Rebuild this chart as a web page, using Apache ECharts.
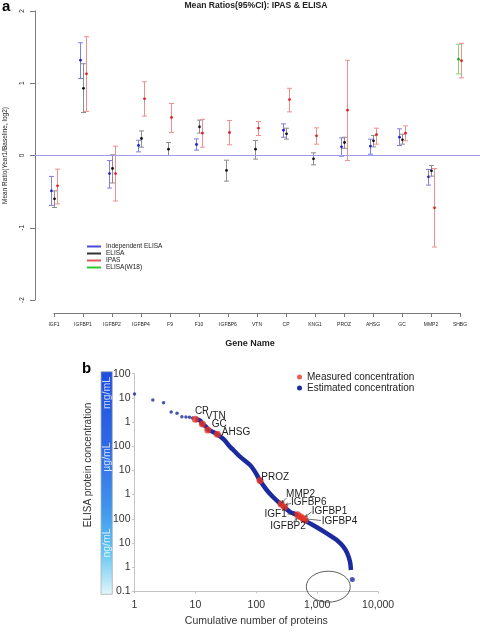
<!DOCTYPE html>
<html><head><meta charset="utf-8">
<script src="https://cdn.jsdelivr.net/npm/echarts@6/dist/echarts.min.js"></script>
<style>html,body{margin:0;padding:0;background:#fff}#c{width:480px;height:639px}</style>
</head><body><div id="c"></div>
<script>
// ---------- Panel a data (log2 mean ratio with 95% CI; null = not measured) ----------
const geneNames = ['IGF1','IGFBP1','IGFBP2','IGFBP4','F9','F10','IGFBP6','VTN','CP','KNG1','PROZ','AHSG','GC','MMP2','SHBG'];
const yTicksA = [-2, -1, 0, 1, 2];

const indElisaMean = [-0.49, 1.32, -0.25, 0.14, null, 0.152, null, null, 0.35, null, 0.12, 0.129, 0.253, -0.295, null];
const indElisaLow  = [-0.69, 1.065, -0.45, 0.05, null, 0.074, null, null, 0.253, null, -0.01, 0.018, 0.138, -0.41, null];
const indElisaHigh = [-0.29, 1.56, -0.07, 0.21, null, 0.23, null, null, 0.438, null, 0.244, 0.226, 0.369, -0.194, null];

const elisaMean = [-0.60, 0.93, -0.18, 0.235, 0.088, 0.397, -0.207, 0.088, 0.30, -0.046, 0.18, 0.203, 0.217, -0.212, null];
const elisaLow  = [-0.72, 0.595, -0.38, 0.115, 0.0, 0.31, -0.355, -0.05, 0.226, -0.129, 0.10, 0.12, 0.157, -0.286, null];
const elisaHigh = [-0.49, 1.27, 0.01, 0.34, 0.18, 0.49, -0.065, 0.207, 0.378, 0.037, 0.253, 0.276, 0.295, -0.138, null];

const ipasMean = [-0.42, 1.13, -0.25, 0.785, 0.526, 0.31, 0.318, 0.378, 0.774, 0.272, 0.627, 0.29, 0.309, -0.724, 1.313];
const ipasLow  = [-0.67, 0.61, -0.63, 0.545, 0.32, 0.115, 0.148, 0.276, 0.604, 0.157, -0.07, 0.157, 0.203, -1.267, 1.074];
const ipasHigh = [-0.19, 1.645, 0.13, 1.02, 0.72, 0.5, 0.485, 0.47, 0.93, 0.383, 1.318, 0.378, 0.41, -0.18, 1.553];

const w18Mean = [null, null, null, null, null, null, null, null, null, null, null, null, null, null, 1.332];
const w18Low  = [null, null, null, null, null, null, null, null, null, null, null, null, null, null, 1.129];
const w18High = [null, null, null, null, null, null, null, null, null, null, null, null, null, null, 1.54];

// ---------- Panel b data (rank vs concentration in ng/mL) ----------
const estRankDots = [1, 2, 3, 4, 5, 6, 7, 8, 9];
const estConcDots = [1.45e7, 8.2e6, 6.3e6, 2.6e6, 2.3e6, 1.66e6, 1.6e6, 1.58e6, 1.47e6];
const estRankCurve = [10, 12, 13, 15, 16, 20, 23, 29, 37, 42, 54, 79, 95, 115, 148, 190, 261, 357, 460, 673, 982, 1432, 2090, 2684, 3120, 3456, 3590];
const estConcCurve = [1.3e6, 1.14e6, 8.3e5, 6.4e5, 5.0e5, 3.8e5, 3.1e5, 1.95e5, 9.5e4, 7.0e4, 3.7e4, 1.67e4, 8.9e3, 3.8e3, 1.55e3, 776, 372, 195, 145, 76, 44.7, 25, 13.2, 7.0, 3.7, 1.66, 0.76];
const estRankTail = [3770];
const estConcTail = [0.31];
const measuredNames = ['CP','VTN','GC','AHSG','PROZ','MMP2','IGFBP6','IGF1','IGFBP2','IGFBP1','IGFBP4'];
const measuredRank  = [10, 13, 16, 23, 115, 255, 290, 475, 532, 585, 631];
const measuredConc  = [1.3e6, 8.3e5, 4.7e5, 3.1e5, 3.8e3, 408, 307, 145, 121, 103, 89];
const xTickLabelsB = ['1', '10', '100', '1,000', '10,000'];
const yTickLabelsB = ['0.1', '1', '10', '100', '1', '10', '100', '1', '10', '100'];
const unitLabels = ['mg/mL', 'µg/mL', 'ng/mL'];

// ---------- styles ----------
const NARROW = "'Liberation Sans Narrow','Liberation Sans',Arial,sans-serif";
const SANS = "'Liberation Sans',Arial,sans-serif";

const groups = [
  {name: 'Independent ELISA', mean: indElisaMean, low: indElisaLow, high: indElisaHigh, bar: '#7f7fe8', dot: '#1c1cd0', legend: '#4a4ad8'},
  {name: 'ELISA', mean: elisaMean, low: elisaLow, high: elisaHigh, bar: '#8c8c8c', dot: '#111111', legend: '#333333'},
  {name: 'ELISA(W18)', mean: w18Mean, low: w18Low, high: w18High, bar: '#80d680', dot: '#1faa1f', legend: '#33c433'},
  {name: 'IPAS', mean: ipasMean, low: ipasLow, high: ipasHigh, bar: '#f08e8e', dot: '#e02020', legend: '#e05858'}
];

// offsets (px) within a category, depending on how many groups are present
const offsets = groups.map(() => geneNames.map(() => 0));
geneNames.forEach((_, i) => {
  const present = groups.map((g, k) => g.mean[i] != null ? k : -1).filter(k => k >= 0);
  present.forEach((k, j) => { offsets[k][i] = (j - (present.length - 1) / 2) * 3; });
});

function errSeries(g, k) {
  const data = [];
  g.mean.forEach((m, i) => { if (m != null) data.push([i, m, g.low[i], g.high[i], offsets[k][i]]); });
  return {
    type: 'custom', name: g.name, xAxisIndex: 0, yAxisIndex: 0,
    itemStyle: {color: g.legend},
    encode: {x: 0, y: [1, 2, 3]},
    data,
    z: 3,
    renderItem: (params, api) => {
      const x = api.value(0), off = api.value(4);
      const pm = api.coord([x, api.value(1)]);
      const pl = api.coord([x, api.value(2)]);
      const ph = api.coord([x, api.value(3)]);
      const cx = Math.round(pm[0] + off) + 0.5;
      const cw = 2.5;
      const ls = {stroke: g.bar, lineWidth: 1};
      return {type: 'group', children: [
        {type: 'line', shape: {x1: cx, y1: pl[1], x2: cx, y2: ph[1]}, style: ls},
        {type: 'line', shape: {x1: cx - cw, y1: ph[1], x2: cx + cw, y2: ph[1]}, style: ls},
        {type: 'line', shape: {x1: cx - cw, y1: pl[1], x2: cx + cw, y2: pl[1]}, style: ls},
        {type: 'circle', shape: {cx: cx, cy: pm[1], r: 1.4}, style: {fill: g.dot}}
      ]};
    }
  };
}

const seriesA = groups.map(errSeries);
// reference line at log2 ratio = 0
const zeroLine = {
  type: 'line', xAxisIndex: 0, yAxisIndex: 0, data: [], silent: true, z: 1,
  markLine: {
    silent: true, symbol: 'none', label: {show: false}, animation: false,
    lineStyle: {color: '#9c9cf2', width: 1, type: 'solid'},
    data: [{yAxis: 0}]
  }
};

const zip = (a, b) => a.map((v, i) => [v, b[i]]);
const navy = '#1c2aa0';
const red = '#ea3323';

const seriesB = [
  {type: 'line', name: 'Estimated concentration', xAxisIndex: 2, yAxisIndex: 2,
   data: zip(estRankCurve, estConcCurve), showSymbol: false, smooth: 0.3,
   lineStyle: {color: navy, width: 4.5}, itemStyle: {color: navy}, z: 2},
  {type: 'scatter', name: 'Estimated concentration', xAxisIndex: 2, yAxisIndex: 2,
   data: zip(estRankDots, estConcDots), symbolSize: 3.5, itemStyle: {color: navy}, z: 2},
  {type: 'scatter', name: 'Estimated concentration', xAxisIndex: 2, yAxisIndex: 2,
   data: zip(estRankTail, estConcTail), symbolSize: 5, itemStyle: {color: navy}, z: 2},
  {type: 'scatter', name: 'Measured concentration', xAxisIndex: 2, yAxisIndex: 2,
   data: zip(measuredRank, measuredConc), symbolSize: 7, itemStyle: {color: red}, z: 4}
];

const axisGray = '#7a7a7a';
const lightGray = '#c4c4c4';

const option = {
  animation: false,
  backgroundColor: '#ffffff',
  title: [
    {text: 'a', left: 2, top: -1, padding: 0, textStyle: {fontSize: 15, fontWeight: 'bold', color: '#000', fontFamily: SANS}},
    {text: 'Mean Ratios(95%CI): IPAS & ELISA', left: 256, textAlign: 'center', top: 1, padding: 0,
     textStyle: {fontSize: 8.6, fontWeight: 'bold', color: '#222', fontFamily: SANS}},
    {text: 'b', left: 82, top: 361, padding: 0, textStyle: {fontSize: 15, fontWeight: 'bold', color: '#000', fontFamily: SANS}}
  ],
  legend: [
    {orient: 'vertical', left: 87, top: 243, padding: 0, itemWidth: 14, itemHeight: 2, itemGap: 0, icon: 'rect',
     data: ['Independent ELISA', 'ELISA', 'IPAS', 'ELISA(W18)'],
     textStyle: {fontSize: 6.5, lineHeight: 6.7, color: '#222', fontFamily: SANS}, selectedMode: false},
    {orient: 'vertical', left: 297, top: 372, padding: 0, itemWidth: 5, itemHeight: 5, itemGap: 1, icon: 'circle',
     data: ['Measured concentration', 'Estimated concentration'],
     textStyle: {fontSize: 10, lineHeight: 10, color: '#222', fontFamily: NARROW}, selectedMode: false}
  ],
  grid: [
    {left: 35, right: 0, top: 11, height: 289, outerBoundsMode: 'none'},
    {left: 54, right: 20, top: 11, bottom: 326, outerBoundsMode: 'none'},
    {left: 134.5, top: 373.7, width: 243.6, height: 217.6, outerBoundsMode: 'none'}
  ],
  xAxis: [
    {gridIndex: 0, type: 'value', min: -0.655, max: 14.69, show: false},
    {gridIndex: 1, type: 'value', min: 0, max: 14, interval: 1,
     axisLine: {show: true, onZero: false, lineStyle: {color: axisGray, width: 1}},
     axisTick: {show: true, length: 4, lineStyle: {color: axisGray}},
     splitLine: {show: false},
     axisLabel: {fontSize: 5, margin: 9, color: '#222', fontFamily: SANS, formatter: v => geneNames[v] || ''},
     name: 'Gene Name', nameLocation: 'middle', nameGap: 26,
     nameTextStyle: {fontSize: 9, fontWeight: 'bold', color: '#222', fontFamily: SANS, padding: [0, 14, 0, 0]}},
    {gridIndex: 2, type: 'log', logBase: 10, min: 1, max: 10000,
     axisLine: {show: true, onZero: false, lineStyle: {color: lightGray, width: 1}},
     axisTick: {show: true, length: 2, lineStyle: {color: lightGray}},
     minorTick: {show: false}, splitLine: {show: false},
     axisLabel: {fontSize: 10.5, margin: 8, color: '#333', fontFamily: NARROW,
       formatter: v => xTickLabelsB[Math.round(Math.log10(v))] || ''},
     name: 'Cumulative number of proteins', nameLocation: 'middle', nameGap: 24,
     nameTextStyle: {fontSize: 10.5, color: '#333', fontFamily: NARROW}}
  ],
  yAxis: [
    {gridIndex: 0, type: 'value', min: -2, max: 2, interval: 1,
     axisLine: {show: true, onZero: false, lineStyle: {color: axisGray, width: 1}},
     axisTick: {show: true, length: 5, lineStyle: {color: axisGray}},
     splitLine: {show: false},
     axisLabel: {rotate: 90, fontSize: 6.5, margin: 9, color: '#222', fontFamily: SANS,
       formatter: v => yTicksA.includes(v) ? String(v) : ''},
     name: 'Mean Ratio(Year1/Baseline, log2)', nameLocation: 'middle', nameGap: 26,
     nameTextStyle: {fontSize: 6.5, color: '#222', fontFamily: SANS}},
    {gridIndex: 1, type: 'value', min: -2, max: 2, show: false},
    {gridIndex: 2, type: 'log', logBase: 10, min: 0.1, max: 1e8, interval: 1, splitNumber: 10,
     axisLine: {show: true, onZero: false, lineStyle: {color: lightGray, width: 1}},
     axisTick: {show: true, length: 2.5, lineStyle: {color: lightGray}},
     minorTick: {show: false}, splitLine: {show: false},
     axisLabel: {fontSize: 10.5, margin: 4, color: '#333', fontFamily: NARROW,
       formatter: v => yTickLabelsB[Math.round(Math.log10(v)) + 1] || ''}}
  ],
  series: [zeroLine].concat(seriesA).concat([
    {type: 'scatter', xAxisIndex: 1, yAxisIndex: 1, data: [], silent: true}
  ]).concat(seriesB)
};

const chart = echarts.init(document.getElementById('c'), null, {renderer: 'canvas'});
chart.setOption(option);

// ---------- annotations positioned via the panel-b axes ----------
const P = (r, c) => chart.convertToPixel({gridIndex: 2}, [r, c]);

const labelLayout = {
  CP:     {dx: -0.5, dy: -8,   align: 'left'},
  VTN:    {dx: 3.3,  dy: -8,   align: 'left'},
  GC:     {dx: 4,    dy: -6,   align: 'left'},
  AHSG:   {dx: 4.4,  dy: -2,   align: 'left'},
  PROZ:   {dx: 1.3,  dy: -3.7, align: 'left'},
  MMP2:   {dx: 5,    dy: -10,  align: 'left',   arrow: [5.5, -6, 1, -1.5]},
  IGFBP6: {dx: 6.5,  dy: -4.5, align: 'left',   arrow: [6.5, -3.5, 1.5, -2.5]},
  IGF1:   {dx: -10.8, dy: -0.8, align: 'right', arrow: [-10, -1, -2.5, 0]},
  IGFBP2: {dx: -12.5, dy: 9.2, align: 'center', arrow: [-8, 6.2, -3.5, 1.7]},
  IGFBP1: {dx: 8.7,  dy: -7.5, align: 'left',   arrow: [8.5, -6.5, 2.5, -2]},
  IGFBP4: {dx: 16.7, dy: 1,    align: 'left',   line: [16, 0.5, 2, -1]}
};

const gfx = [];
// colour bar
const top8 = P(1, 1e8)[1], bot = P(1, 0.1)[1];
const barX = 101, barW = 11.3;
gfx.push({type: 'rect', shape: {x: barX, y: top8 - 2, width: barW, height: bot - top8 + 5},
  style: {fill: new echarts.graphic.LinearGradient(0, 0, 0, 1, [
    {offset: 0, color: '#1d4ee0'}, {offset: 0.35, color: '#2f6ae6'}, {offset: 0.6, color: '#3f92ec'},
    {offset: 0.8, color: '#5cc4f2'}, {offset: 1, color: '#e2f6fa'}]), stroke: '#b0b0b0', lineWidth: 0.8}, z: 10});
const unitY = [393, 457, 543];
unitLabels.forEach((t, i) => gfx.push({type: 'text', x: barX + barW / 2, y: unitY[i], rotation: Math.PI / 2,
  style: {text: t, fontSize: 10.5, fontFamily: SANS, fill: 'rgba(255,255,255,0.78)', align: 'center', verticalAlign: 'middle'}, z: 11}));
// y title of panel b
gfx.push({type: 'text', x: 88, y: 465, rotation: Math.PI / 2,
  style: {text: 'ELISA protein concentration', fontSize: 10, fontFamily: SANS, fill: '#333', align: 'center', verticalAlign: 'middle'}, z: 11});

function arrowEls(x1, y1, x2, y2, head) {
  const els = [{type: 'line', shape: {x1, y1, x2, y2}, style: {stroke: '#333', lineWidth: 0.7}, z: 12}];
  if (head) {
    const a = Math.atan2(y2 - y1, x2 - x1), L = 2.5;
    els.push({type: 'polyline', shape: {points: [
      [x2 - L * Math.cos(a - 0.5), y2 - L * Math.sin(a - 0.5)], [x2, y2],
      [x2 - L * Math.cos(a + 0.5), y2 - L * Math.sin(a + 0.5)]]}, style: {stroke: '#333', lineWidth: 0.7, fill: null}, z: 12});
  }
  return els;
}

measuredNames.forEach((n, i) => {
  const p = P(measuredRank[i], measuredConc[i]);
  const L = labelLayout[n];
  gfx.push({type: 'text', x: p[0] + L.dx, y: p[1] + L.dy,
    style: {text: n, fontSize: 10, fontFamily: NARROW, fill: '#222', align: L.align, verticalAlign: 'middle'}, z: 12});
  if (L.arrow) gfx.push(...arrowEls(p[0] + L.arrow[0], p[1] + L.arrow[1], p[0] + L.arrow[2], p[1] + L.arrow[3], true));
  if (L.line) gfx.push(...arrowEls(p[0] + L.line[0], p[1] + L.line[1], p[0] + L.line[2], p[1] + L.line[3], false));
});

// ellipse highlighting the low-abundance tail
const ec = P(1520, 0.155);
gfx.push({type: 'ellipse', shape: {cx: ec[0], cy: ec[1], rx: 22, ry: 15.5}, style: {stroke: '#333', lineWidth: 0.8, fill: null}, z: 12});

chart.setOption({graphic: {elements: gfx}});
</script>
</body></html>
